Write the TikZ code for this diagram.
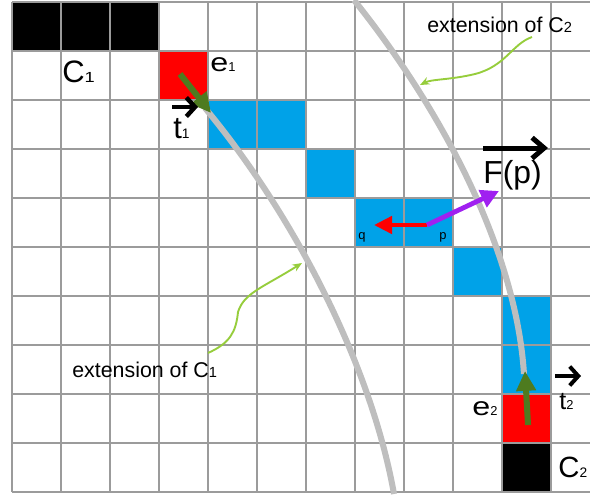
\documentclass[tikz,border=0pt]{standalone}
\usepackage{fontspec}
\setmainfont{Liberation Sans}
\usetikzlibrary{arrows.meta}
\definecolor{gridc}{RGB}{155,155,155}
\definecolor{cellblue}{RGB}{0,162,232}
\definecolor{cellred}{RGB}{255,0,0}
\definecolor{curvegray}{RGB}{190,190,190}
\definecolor{olivegr}{RGB}{78,123,31}
\definecolor{lgreen}{RGB}{150,205,60}
\definecolor{vpurple}{RGB}{160,32,240}
\newcommand\mycell[3]{\fill[#3] ({12+49*#1},{2+49*#2}) rectangle ({61+49*#1},{51+49*#2});}
\newcommand\fs[2]{{\fontsize{#1}{#1}\selectfont #2}}
\newcommand\wide[2][1.25]{\scalebox{#1}[1]{#2}}
\begin{document}
\begin{tikzpicture}[x=0.020408cm,y=-0.020408cm,
  gridline/.style={draw=gridc,line width=1.1pt},
  gcurve/.style={draw=curvegray,line width=3.5pt},
  garrow/.style={draw=olivegr,line width=3.5pt,-{Triangle[length=11.5pt,width=11pt]}},
  pointer/.style={draw=lgreen,line width=1.1pt,-{Stealth[length=5.5pt,width=4.5pt]}},
  vecarrow/.style={draw=black,line width=2.8pt,-{Straight Barb[length=5pt,width=11pt]}},
  lab/.style={inner sep=0pt,anchor=base west}]
\useasboundingbox (0,0) rectangle (590,494);
\clip (0,0) rectangle (590,494);
% cells
\mycell{0}{0}{black}\mycell{1}{0}{black}\mycell{2}{0}{black}\mycell{10}{9}{black}
\mycell{3}{1}{cellred}\mycell{10}{8}{cellred}
\mycell{4}{2}{cellblue}\mycell{5}{2}{cellblue}\mycell{6}{3}{cellblue}
\mycell{7}{4}{cellblue}\mycell{8}{4}{cellblue}\mycell{9}{5}{cellblue}
\mycell{10}{6}{cellblue}\mycell{10}{7}{cellblue}
% grid
\foreach \i in {0,...,11} \draw[gridline] ({12+49*\i},2) -- ({12+49*\i},492);
\foreach \j in {0,...,10} \draw[gridline] (12,{2+49*\j}) -- (590,{2+49*\j});
% extension curves
\coordinate (c1a) at (205,108); \coordinate (c1b) at (394,494);
\coordinate (c2a) at (354,0); \coordinate (c2b) at (524,374);
\draw[gcurve] (c1a) .. controls (290,210) and (370,360) .. (c1b);
\draw[gcurve] (c2a) .. controls (442,110) and (516,250) .. (c2b);
% green tangent arrows
\coordinate (e1s) at (180,74); \coordinate (e1t) at (211,113);
\coordinate (e2s) at (528,425); \coordinate (e2t) at (525,371);
\draw[garrow] (e1s) -- (e1t);
\draw[garrow] (e2s) -- (e2t);
% force arrows
\coordinate (p0) at (427,225); \coordinate (q0) at (374,225); \coordinate (fp) at (499,191);
\draw[draw=cellred,line width=2.4pt,-{Triangle[length=10.5pt,width=10pt]}] (p0) -- (q0);
\draw[draw=vpurple,line width=2.8pt,-{Triangle[length=10.5pt,width=10.5pt]}] (p0) -- (fp);
% labels
\node[lab] (lC1) at (62,82) {\fs{18}{C}\wide{\fs{8.5}{1}}};
\node[lab] (le1) at (210,71) {\wide{\fs{15}{e}}\fs{7.5}{1}};
\node[lab] (lt1) at (173,138) {\fs{18}{t}\fs{8}{1}};
\node[lab] (le2) at (472,415) {\wide{\fs{15}{e}}\fs{7.5}{2}};
\node[lab] (lt2) at (559,409) {\fs{14.5}{t}\fs{7.5}{2}};
\node[lab] (lC2) at (558,477) {\fs{17}{C}\fs{8}{2}};
\node[lab] (lF) at (483,183) {\fs{18.5}{F(p)}};
\node[lab] (lq) at (358,239) {\fs{7.5}{q}};
\node[lab] (lp) at (439,239) {\fs{7.5}{p}};
\node[lab] (lx2) at (427,32) {\fs{12.4}{extension of C}\fs{8.5}{2}};
\node[lab] (lx1) at (72,377) {\fs{12.4}{extension of C}\fs{8.5}{1}};
% vector arrows
\coordinate (t1a) at (172,107); \coordinate (t1b) at (198,107);
\coordinate (t2a) at (555,376); \coordinate (t2b) at (581,376);
\coordinate (Fa) at (483,148); \coordinate (Fb) at (548,148);
\draw[vecarrow,line width=2.6pt] (t1a) -- (t1b);
\draw[vecarrow,line width=2.3pt] (t2a) -- (t2b);
\draw[vecarrow,line width=2.9pt,-{Straight Barb[length=7pt,width=12pt]}] (Fa) -- (Fb);
% pointers
\coordinate (x2s) at (532,37); \coordinate (x2m) at (475,74); \coordinate (x2t) at (420,85);
\draw[pointer] (x2s) .. controls (512,44) and (506,66) .. (x2m) .. controls (450,80) and (432,79) .. (x2t);
\coordinate (x1s) at (208,353); \coordinate (x1m) at (238,312); \coordinate (x1t) at (302,263);
\draw[pointer] (x1s) .. controls (230,343) and (236,332) .. (x1m) .. controls (244,293) and (262,288) .. (x1t);
\end{tikzpicture}
\end{document}
